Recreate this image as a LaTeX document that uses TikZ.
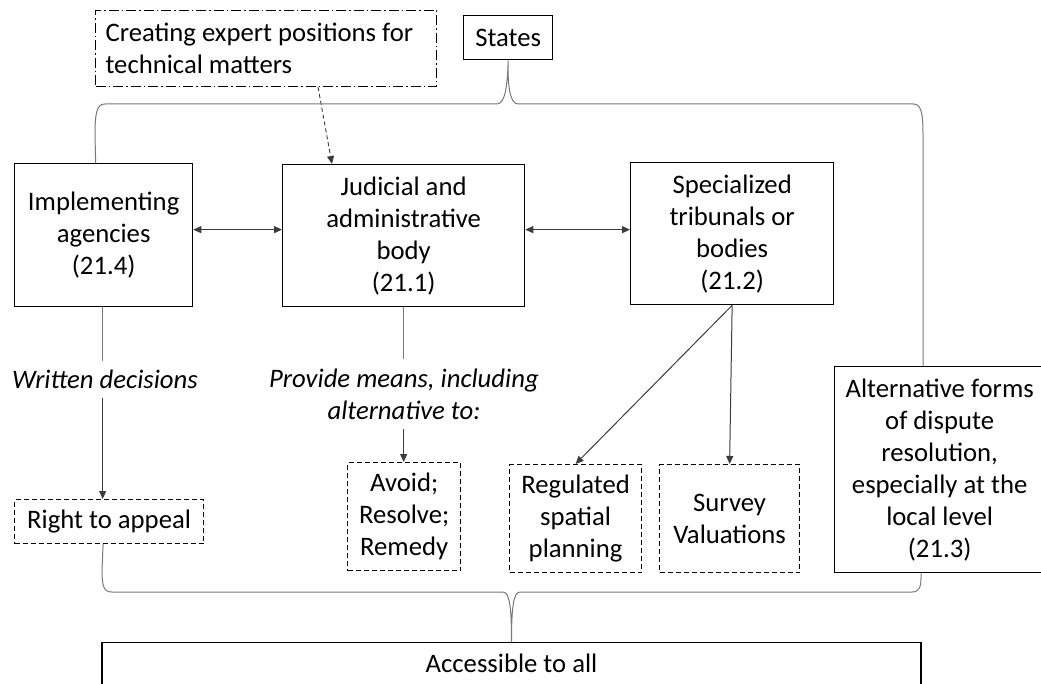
\documentclass[tikz,border=0pt]{standalone}
\usepackage{fontspec}
\setmainfont{Carlito}
\usetikzlibrary{arrows.meta,calc}
\definecolor{linegray}{RGB}{120,120,120}
\definecolor{arrowgray}{RGB}{60,60,60}
\begin{document}
\begin{tikzpicture}[x=1pt,y=-1pt,
  every node/.style={font=\fontsize{26.7}{32}\selectfont, align=center, inner sep=2pt},
  box/.style={draw=black, line width=1.3pt, anchor=north west},
  dbox/.style={draw=black, line width=1.2pt, dash pattern=on 5pt off 3pt, anchor=north west},
  ddbox/.style={draw=black, line width=1.1pt, dash pattern=on 10pt off 3pt on 1.5pt off 3pt, anchor=north west},
  label/.style={font=\fontsize{26.7}{32}\selectfont\itshape},
  brace/.style={draw=linegray, line width=1pt},
  plain/.style={draw=linegray, line width=1pt},
  arr/.style={draw=arrowgray, line width=1pt, -{Triangle[length=8pt,width=7pt]}},
  biarr/.style={draw=arrowgray, line width=1pt, {Triangle[length=8pt,width=7pt]}-{Triangle[length=8pt,width=7pt]}},
  darr/.style={draw=arrowgray, line width=0.9pt, dash pattern=on 4pt off 3pt, -{Triangle[length=8pt,width=7pt]}}
]
\useasboundingbox (0,0) rectangle (1041,684);

% top row
\node[ddbox, minimum width=341pt, minimum height=76pt, text width=321pt, align=flush left, inner xsep=10pt]
  (expert) at (95,10) {Creating expert positions for\\technical matters};
\node[box, minimum width=89pt, minimum height=44pt] (states) at (463,15) {States};

% main bodies
\node[box, minimum width=178pt, minimum height=143pt] (impl) at (14,163) {Implementing\\agencies\\(21.4)};
\node[box, minimum width=242pt, minimum height=142pt] (jud) at (282,164) {Judicial and\\administrative\\body\\(21.1)};
\node[box, minimum width=203pt, minimum height=142pt] (spec) at (630,162) {Specialized\\tribunals or\\bodies\\(21.2)};
\node[box, minimum width=210pt, minimum height=206pt] (alt) at (834,366)
  {Alternative forms\\of dispute\\resolution,\\especially at the\\local level\\(21.3)};

% labels on the connectors
\node[label, inner ysep=9pt] (wd) at (105,379.5) {Written decisions};
\node[label, inner ysep=9pt] (pm) at (404,394) {Provide means, including\\alternative to:};

% outcomes
\node[dbox, minimum width=189pt, minimum height=44pt] (rta) at (14,499) {Right to appeal};
\node[dbox, minimum width=113pt, minimum height=108pt] (avoid) at (347,462) {Avoid;\\Resolve;\\Remedy};
\node[dbox, minimum width=132pt, minimum height=108pt] (reg) at (509,464) {Regulated\\spatial\\planning};
\node[dbox, minimum width=140pt, minimum height=108pt] (survey) at (659,464) {Survey\\Valuations};

% bottom bar
\node[draw=black, line width=1.3pt, anchor=north, minimum width=819pt, text height=26pt, text depth=30pt, inner ysep=4pt]
  (acc) at (511.5,642) {Accessible to all};

% connectors
\draw[darr] ($(expert.south west)+(223,0)$) -- ($(jud.north west)+(50,0)$);
\draw[biarr] ([yshift=5.5pt]impl.east) -- ([yshift=5.5pt]impl.east -| jud.west);
\draw[biarr] ([yshift=6pt]jud.east) -- ([yshift=6pt]jud.east -| spec.west);

\draw[plain] ([xshift=-1pt]impl.south) -- ([xshift=-1pt]impl.south |- wd.north);
\draw[arr] ([xshift=-1pt]impl.south |- wd.south) -- ([xshift=-1pt]impl.south |- rta.north);
\draw[plain] (jud.south) -- (jud.south |- pm.north);
\draw[arr] (jud.south |- pm.south) -- (jud.south |- avoid.north);
\draw[arr] (spec.south) -- (reg.north);
\draw[arr] (spec.south) -- (survey.north);

% upper brace from States
\draw[brace] ([xshift=-8pt]impl.north) -- (95,135)
  .. controls (95,112) and (97,104) .. (105,104) -- (497,104)
  .. controls (505,104) and (507.5,86) .. (states.south)
  .. controls (507.5,86) and (510,104) .. (518,104) -- (913,104)
  .. controls (921,104) and (923,112) .. (923,135)
  -- ($(alt.north west)+(89,0)$);

% lower brace to the bottom bar
\draw[brace] ([xshift=-6pt]rta.south) -- (102,570)
  .. controls (102,587) and (104,592) .. (112,592) -- (503,592)
  .. controls (510,592) and (511.5,610) .. (acc.north)
  .. controls (511.5,610) and (513,592) .. (520,592) -- (912,592)
  .. controls (919,592) and (921,587) .. (921,578)
  -- ($(alt.south west)+(87,0)$);
\end{tikzpicture}
\end{document}
